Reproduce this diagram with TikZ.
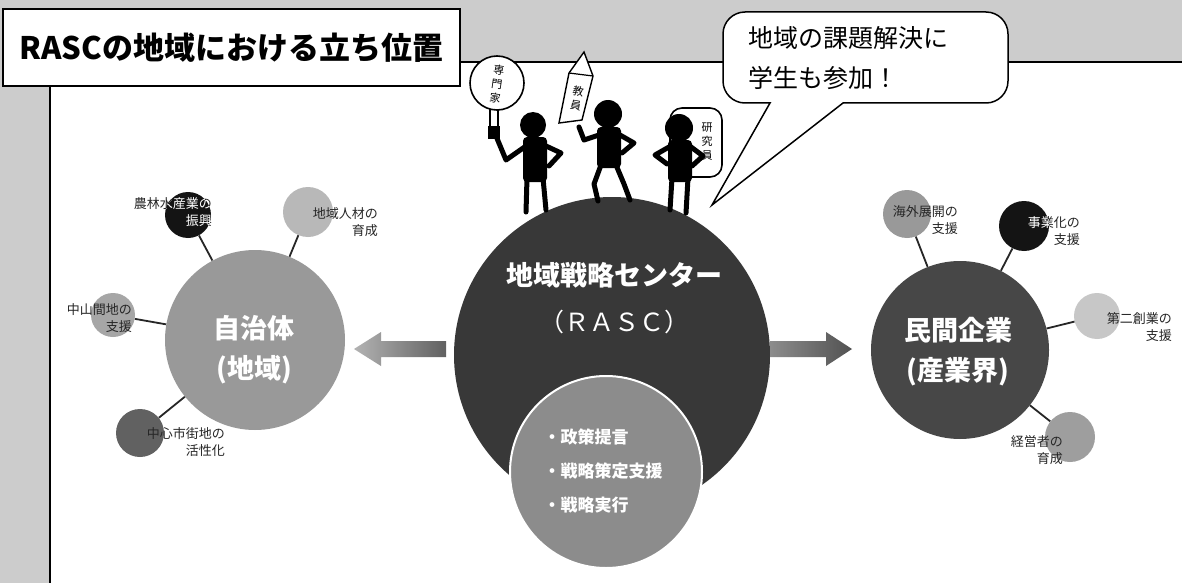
\documentclass[tikz,border=0pt]{standalone}
\usepackage{fontspec}
\setmainfont{Noto Sans CJK JP}
\usetikzlibrary{positioning}

\tikzset{
  sat/.style={circle, inner sep=0pt, minimum size=#1},
  satline/.style={line width=1.8pt, black!85},
  sattext/.style={font=\fontsize{13}{17}\selectfont, text=black!85, align=right, inner sep=0pt, anchor=east},
  bigtext/.style={font=\bfseries\fontsize{27}{40}\selectfont, text=white, align=center, inner sep=0pt},
  limb/.style={line width=5pt, line cap=round, line join=round},
  sign/.style={draw, line width=1.6pt, fill=white},
  signtext/.style={font=\fontsize{11}{14}\selectfont, align=center, inner sep=0pt}
}

\begin{document}
\begin{tikzpicture}[x=1pt,y=-1pt]
\useasboundingbox (0,0) rectangle (1182,583);

\fill[black!20] (0,0) rectangle (1182,583);
\fill[white] (50,62) rectangle (1182,583);
\draw[line width=1.6pt] (1182,62) -- (50,62) -- (50,583);

% centre
\node[sat=316pt, fill=black!78] (rasc) at (612,355) {};
\node[sat=192pt, fill=black!45, draw=white, line width=2pt] (role) at (606,472) {};
\node[bigtext] (rasc-t) at (614,298) {地域戦略センター\\[6pt]\mdseries\fontsize{25}{40}\selectfont （ＲＡＳＣ）};
\node[font=\bfseries\fontsize{17}{34}\selectfont, text=white, align=left, inner sep=0pt] (role-t) at (603,471)
  {・政策提言\\・戦略策定支援\\・戦略実行};

% left side
\node[sat=180pt, fill=black!40] (jichitai) at (255,340) {};
\node[bigtext] (jichitai-t) at (254,350) {自治体\\(地域)};

\node[sat=46pt, fill=black!92] (nourin) at (188,215) {};
\node[sat=50pt, fill=black!28] (chiiki) at (308,212) {};
\node[sat=44pt, fill=black!35] (chusan) at (113,315) {};
\node[sat=48pt, fill=black!62] (chushin) at (140,433) {};

\draw[satline] (nourin) -- (jichitai);
\draw[satline] (chiiki) -- (jichitai);
\draw[satline] (chusan) -- (jichitai);
\draw[satline] (chushin) -- (jichitai);

\node[sattext] (nourin-t) at (212,212) {農林水産業の\\振興};
\begin{scope}
  \clip (188,215) circle[radius=23pt];
  \node[sattext, text=white] at (212,212) {農林水産業の\\振興};
\end{scope}
\node[sattext] (chiiki-t) at (378,222) {地域人材の\\育成};
\node[sattext] (chusan-t) at (132,318) {中山間地の\\支援};
\node[sattext] (chushin-t) at (225,442) {中心市街地の\\活性化};

% right side
\node[sat=178pt, fill=black!72] (minkan) at (960,350) {};
\node[bigtext] (minkan-t) at (958,352) {民間企業\\(産業界)};

\node[sat=48pt, fill=black!40] (kaigai) at (907,214) {};
\node[sat=50pt, fill=black!92] (jigyo) at (1024,226) {};
\node[sat=46pt, fill=black!22] (daini) at (1097,316) {};
\node[sat=50pt, fill=black!38] (keiei) at (1070,437) {};

\draw[satline] (kaigai) -- (minkan);
\draw[satline] (jigyo) -- (minkan);
\draw[satline] (daini) -- (minkan);
\draw[satline] (keiei) -- (minkan);

\node[sattext] (kaigai-t) at (958,220) {海外展開の\\支援};
\node[sattext] (jigyo-t) at (1080,231) {事業化の\\支援};
\begin{scope}
  \clip (1024,226) circle[radius=25pt];
  \node[sattext, text=white] at (1080,231) {事業化の\\支援};
\end{scope}
\node[sattext] (daini-t) at (1172,327) {第二創業の\\支援};
\node[sattext] (keiei-t) at (1063,450) {経営者の\\育成};

% arrows
\shade[left color=black!30, right color=black!62] (446,341) -- (381,341) -- (381,332) -- (354,349) -- (381,366) -- (381,357) -- (446,357) -- cycle;
\shade[left color=black!45, right color=black!68] (770,341) -- (826,341) -- (826,332) -- (852,349) -- (826,366) -- (826,357) -- (770,357) -- cycle;

% people on top
\draw[sign] (490,108) rectangle (498,128);
\fill (488,126) rectangle (500,139);
\node[sign, circle, minimum size=54pt, inner sep=0pt] (senmon) at (497,83) {};
\node[signtext, rotate=-8] (senmon-t) at (497,84) {専\\門\\家};
\fill (533,125) circle[radius=13pt];
\fill[rounded corners=4pt] (523,137) rectangle (547,182);
\draw[limb] (527,178) -- (526,212);
\draw[limb] (543,178) -- (546,210);
\draw[limb] (526,146) -- (506,160) -- (496,136);
\draw[limb] (546,146) -- (561,153) -- (549,166);

\draw[sign, line width=1.4pt] (559,123) -- (569,73) -- (584,52) -- (593,76) -- (582,120) -- cycle;
\draw[line width=1.2pt] (569,73) -- (593,76);
\node[signtext, rotate=-10] (kyoin-t) at (577,98) {教\\員};
\fill (608,114) circle[radius=14pt];
\fill[rounded corners=4pt] (597,127) rectangle (621,168);
\draw[limb] (601,165) -- (594,184) -- (598,201);
\draw[limb] (616,165) -- (624,184) -- (630,200);
\draw[limb] (599,135) -- (584,140) -- (579,127);
\draw[limb] (620,135) -- (634,143) -- (622,153);

\draw[sign, rounded corners=12pt] (670,108) rectangle (722,177);
\node[signtext] (kenkyu-t) at (707,142) {研\\究\\員};
\fill (679,128) circle[radius=14pt];
\fill[rounded corners=4pt] (668,140) rectangle (692,182);
\draw[limb] (672,178) -- (670,210);
\draw[limb] (688,178) -- (686,213);
\draw[limb] (669,147) -- (655,155) -- (667,164);
\draw[limb] (691,147) -- (703,156) -- (692,166);

% speech bubble
\draw[line width=1.5pt, fill=white] (770,103) [rounded corners=22pt] -- (723,103) -- (723,12) -- (1008,12) -- (1008,103) [sharp corners] -- (843,103) -- (712,205) -- cycle;
\node[font=\fontsize{25}{40}\selectfont, align=left, inner sep=0pt, anchor=west] (voice) at (748,58)
  {地域の課題解決に\\学生も参加！};

% title
\node[draw, line width=1.6pt, fill=white, minimum width=457pt, minimum height=77pt, inner sep=0pt,
  font=\bfseries\fontsize{31}{31}\selectfont] (title) at (231.5,47.5) {RASCの地域における立ち位置};
\end{tikzpicture}
\end{document}
